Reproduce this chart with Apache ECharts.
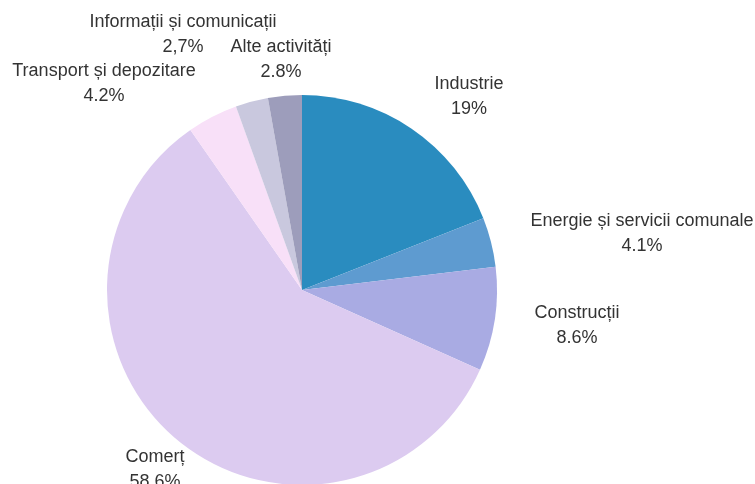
<!DOCTYPE html>
<html>
<head>
<meta charset="utf-8">
<script src="https://cdn.jsdelivr.net/npm/echarts@6/dist/echarts.min.js"></script>
<style>html,body{margin:0;padding:0;background:#fff;}#c{width:755px;height:484px;}</style>
</head>
<body>
<div id="c"></div>
<script>
const categories = ['Industrie', 'Energie și servicii comunale', 'Construcții', 'Comerț', 'Transport și depozitare', 'Informații și comunicații', 'Alte activități'];
const values = [19, 4.1, 8.6, 58.6, 4.2, 2.7, 2.8];
const valueLabels = ['19%', '4.1%', '8.6%', '58.6%', '4.2%', '2,7%', '2.8%'];
const colors = ['#2a8cbf', '#5e9bd0', '#a9abe3', '#dccbf0', '#f8e0f8', '#c9c8de', '#9d9dbb'];

const labelAnchors = [[469, 97], [642, 234], [577, 326], [155, 470], [104, 84], [183, 35], [281, 60]];

const chart = echarts.init(document.getElementById('c'), null, {renderer: 'canvas'});
chart.setOption({
  animation: false,
  backgroundColor: '#ffffff',
  series: [{
    type: 'pie',
    center: [302, 290],
    radius: [0, 195],
    startAngle: 90,
    clockwise: true,
    avoidLabelOverlap: false,
    data: categories.map((n, i) => ({name: n, value: values[i], itemStyle: {color: colors[i]}})),
    label: {
      show: true,
      position: 'outside',
      formatter: p => p.name + '\n' + valueLabels[p.dataIndex],
      fontFamily: 'Liberation Sans, Arial, sans-serif',
      fontSize: 18,
      lineHeight: 25,
      color: '#333333',
      align: 'center',
      overflow: 'none',
      width: 300
    },
    labelLine: {show: false},
    labelLayout: p => ({
      x: labelAnchors[p.dataIndex][0],
      y: labelAnchors[p.dataIndex][1],
      align: 'center',
      verticalAlign: 'middle'
    }),
    itemStyle: {borderWidth: 0},
    emphasis: {disabled: true}
  }]
});
</script>
</body>
</html>
